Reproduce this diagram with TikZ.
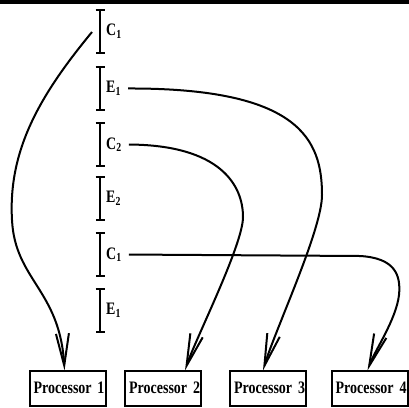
\documentclass[tikz,border=0pt]{standalone}
\usepackage{fontspec}
\setmainfont[FakeStretch=0.8, WordSpace=0.7]{Liberation Serif}
\usepackage{tikz}
\usetikzlibrary{arrows.meta,positioning,calc}

\begin{document}
\begin{tikzpicture}[
    x=1pt, y=-1pt,
    node distance=20pt,
    proc/.style={rectangle, draw, line width=2pt, outer sep=0pt, text width=74pt, align=right, inner xsep=1pt,
                 minimum height=35pt, font=\fontsize{17.5}{20}\selectfont\bfseries},
    lbl/.style={anchor=west, inner sep=2pt, font=\fontsize{17.5}{20}\selectfont\bfseries},
    bar/.style={{Bar[width=9pt]}-{Bar[width=9pt]}, line width=2pt},
    flow/.style={-{Straight Barb[length=32pt, width=13pt]}, line width=2pt},
]
    \useasboundingbox (0,0) rectangle (409,407);

    % bottom of the table above
    \draw[line width=3.5pt] (0,2) -- (409,2);
    \draw[line width=2pt] (135,2) -- (135,-4) (306,2) -- (306,-4);

    % phases on the time line
    \foreach \lab/\sub/\y/\nm in {C/1/9/ca, E/1/66/ea, C/2/122/cb, E/2/176/eb, C/1/232/cc, E/1/288/ec} {
        \draw[bar] (100,\y) -- (100,\y+45);
        \node[lbl] (\nm) at (104,\y+22.5) {\lab\textsubscript{\sub}};
    }
    \coordinate (s1) at (92,32);

    % processors
    \node[proc] (p1) at (67.5,388) {Processor 1};
    \node[proc, right=19.5pt of p1] (p2) {Processor 2};
    \node[proc, right=29pt of p2] (p3) {Processor 3};
    \node[proc, right=25.5pt of p3] (p4) {Processor 4};

    \draw[flow] (s1) .. controls (40,95) and (8,150) .. (12,220)
        .. controls (15,280) and (60,290) .. ([xshift=-3pt]p1.north);
    \draw[flow, shorten <=5pt] (ea.east) .. controls (300,88) and (322,140) .. (322,195)
        .. controls (322,230) and (275,330) .. ([xshift=-5pt]p3.north);
    \draw[flow, shorten <=5pt] (cb.east) .. controls (220,145) and (243,185) .. (243,217)
        .. controls (243,245) and (195,340) .. ([xshift=22pt]p2.north);
    \draw[flow, shorten <=5pt] (cc.east) -- (360,256) .. controls (395,258) and (401,275) .. (399,295)
        .. controls (396,320) and (375,350) .. ([xshift=-2pt]p4.north);
\end{tikzpicture}
\end{document}
